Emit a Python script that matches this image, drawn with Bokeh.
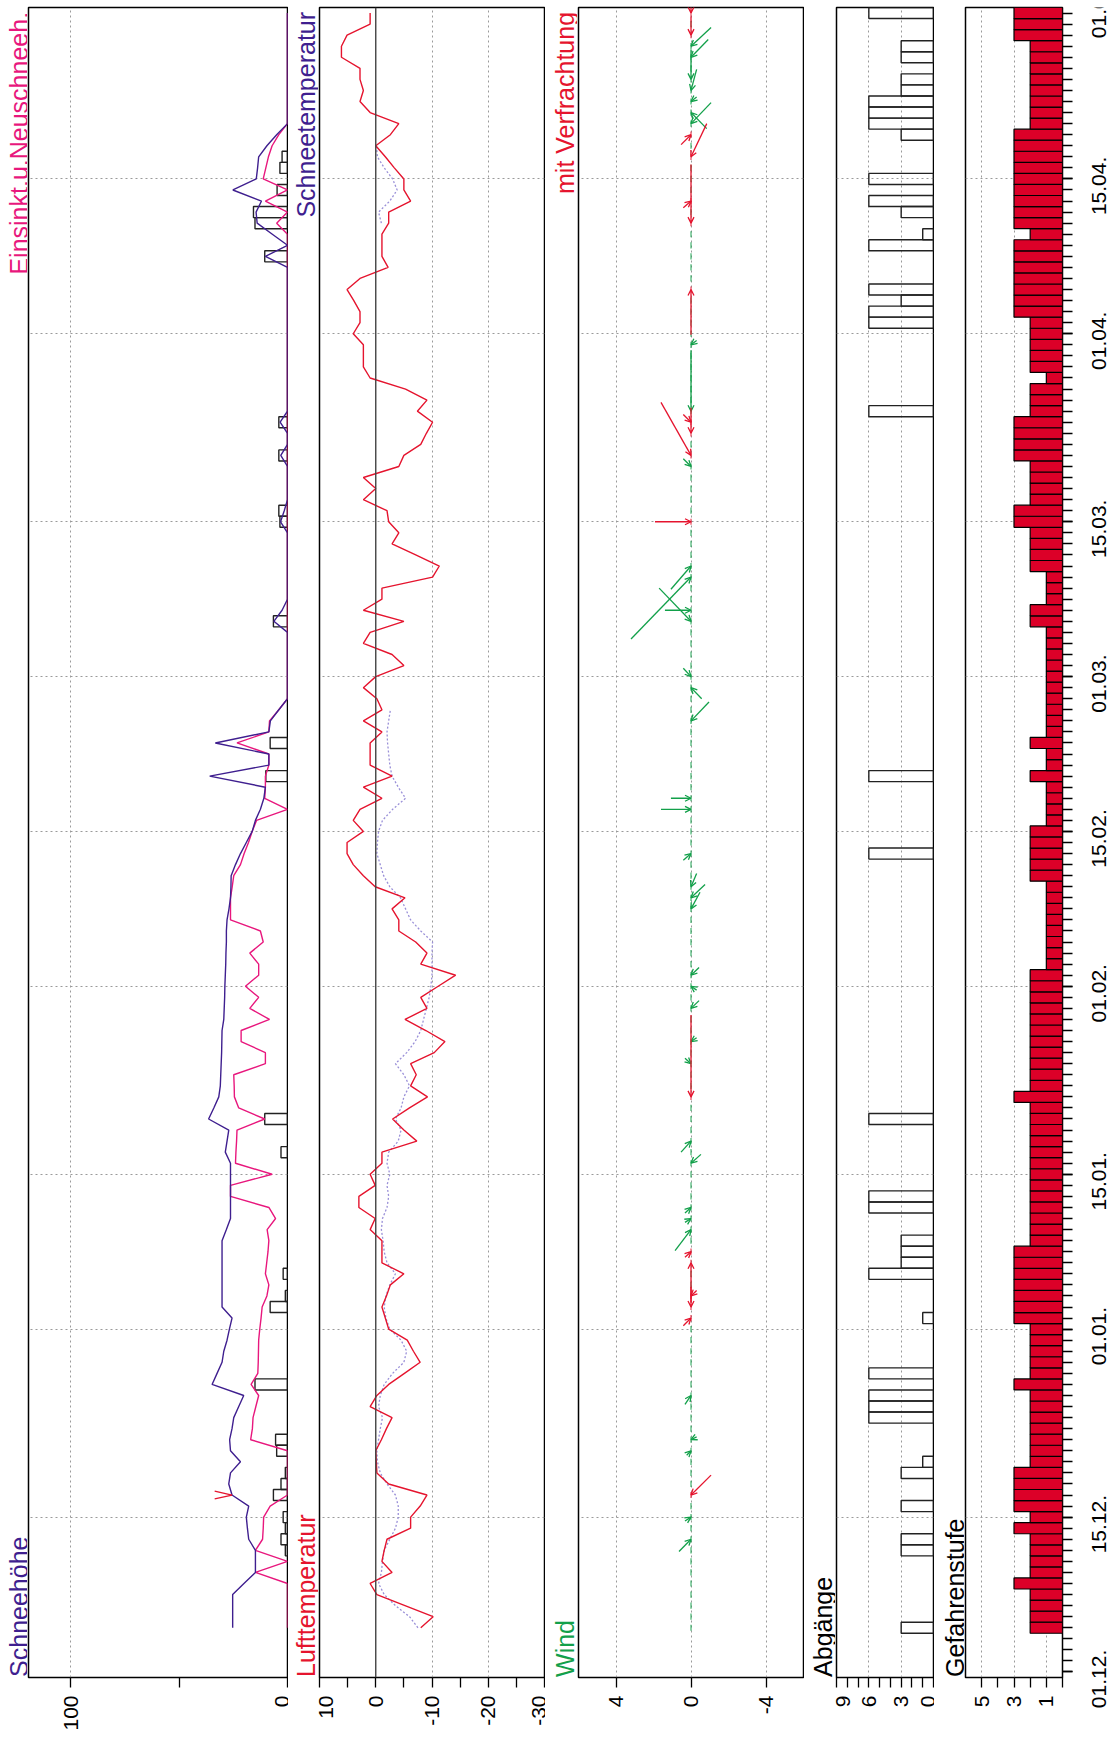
import math
from bokeh.plotting import figure
from bokeh.models import (Range1d, FixedTicker, Span, ColumnDataSource,
                          Arrow, OpenHead, Grid, LinearAxis)
from bokeh.layouts import row
from bokeh.embed import file_html
from bokeh.resources import INLINE
from bokeh.core.properties import value

NAN = float("nan")

# ---------------- data (day index: 0 = 01.12.) ----------------
start_day = 4
date_ticks = [0, 14, 31, 45, 62, 76, 90, 104, 121, 135, 151]
date_labels = ["01.12.", "15.12.", "01.01.", "15.01.", "01.02.",
               "15.02.", "01.03.", "15.03.", "01.04.", "15.04.", "01.05."]
grid_days = [14, 31, 45, 62, 76, 90, 104, 121, 135]

schneehoehe = [
    25.3, 25.3, 25.3, 25.3, 20.1, 14.8, 14.8, 14.8, 17.9, 18.5,
    19.0, 17.9, 25.6, 27.1, 26.3, 21.7, 26.3, 26.7, 25.6, 24.8,
    22.5, 20.2, 34.8, 32.5, 30.2, 29.4, 27.9, 26.8, 25.6, 30.2,
    30.2, 30.2, 30.2, 30.2, 30.2, 30.2, 28.2, 26.3, 26.3, 26.3,
    26.3, 26.3, 26.3, 28.7, 27.9, 27.1, 36.4, 34.0, 31.7, 31.0,
    30.8, 30.6, 30.4, 30.3, 30.2, 29.4, 29.2, 29.0, 28.9, 28.7,
    28.5, 28.4, 28.2, 28.2, 27.9, 27.0, 26.3, 26.1, 26.0, 24.0,
    21.7, 19.0, 16.3, 14.8, 12.5, 10.9, 10.2, 35.9, 8.6, 8.6,
    33.3, 8.6, 7.9, 4.0, 0, 0, 0, 0, 0, 0,
    0, 6.3, 2.5, 0, 0, 0, 0, 0, 0, 0,
    3.2, 1.5, 0, 0, 0, 0, 3.1, 0, 0, 3.4,
    0, 0, 0, 0, 0, 0, 0, 0, 0, 0,
    0, 0, 0, 0, 10.2, 0, 7.0, 14.0, 14.5, 12.0,
    25.2, 14.4, 13.8, 13.3, 9.5, 5.0, 0, 0, 0, 0,
    0, 0, 0, 0, 0, 0, 0]

einsinktiefe = [
    0, 0, 0, 0, 0, 14.8, 0, 14.8, 11.5, 11.2,
    11.0, 8.0, 0, 0, 0, 0, 0, 17.0, 16.2, 15.9,
    14.6, 13.3, 16.8, 13.7, 13.5, 13.4, 13.3, 12.8, 12.2, 11.7,
    9.5, 8.6, 10.2, 9.6, 9.0, 8.6, 9.4, 5.5, 8.6, 26.3,
    26.3, 7.1, 24.0, 23.8, 23.5, 23.3, 10.5, 22.5, 24.5, 24.6,
    24.8, 10.2, 10.2, 21.4, 21.4, 8.3, 17.4, 13.3, 19.4, 13.3,
    13.3, 17.4, 11.2, 12.5, 26.3, 26.3, 26.3, 25.5, 24.8, 21.7,
    20.0, 18.0, 16.3, 14.3, 0, 10.5, 10.2, 10.2, 8.6, 8.6,
    23.3, 8.6, 8.3, 4.0, 0, 0, 0, 0, 0, 0,
    0, 0, 0, 0, 0, 0, 0, 0, 0, 0,
    0, 0, 0, 0, 0, 0, 0, 0, 0, 0,
    0, 0, 0, 0, 0, 0, 0, 0, 0, 0,
    0, 0, 0, 0, 0, 0, 0, 5.0, 0, 10.2,
    0, 11.2, 10.0, 8.8, 7.1, 4.0, 0, 0, 0, 0,
    0, 0, 0, 0, 0, 0, 0]

neuschnee_days = [11, 12, 13, 14, 16, 17, 18, 20, 21, 26, 33, 34, 36, 47, 50,
                  81, 84, 95, 104, 105, 110, 113, 128, 131, 132, 134, 136, 137]
neuschnee = [1, 3, 1, 2, 6.5, 3, 1, 5, 5.5, 15, 8, 1, 2, 3, 10.5,
             10, 8, 6.5, 3.5, 4, 4, 4, 10.5, 15, 15.7, 4.8, 3.5, 2.5]

reif_days = [16]
reif_val = [25.6]

lufttemperatur = [
    -8.0, -10.2, -5.2, -0.2, 1.0, -2.9, -1.1, -1.5, -2.0, -6.2,
    -6.2, -7.9, -9.1, -2.3, -0.2, -0.1, 0.0, -1.0, -1.9, -2.9,
    1.0, -0.2, -2.3, -5.1, -7.9, -6.7, -5.6, -2.3, -1.7, -1.1,
    -1.9, -2.6, -5.0, -1.1, -1.1, -1.1, 1.0, 0.1, 3.0, 3.0,
    0.1, 1.0, -1.1, -1.1, -7.3, -5.0, -3.0, -6.0, -9.2, -6.2,
    -7.2, -6.2, -10.4, -12.3, -8.9, -5.2, -9.1, -8.0, -11.1, -14.2,
    -8.0, -9.1, -7.1, -4.1, -4.1, -2.9, -5.2, 0.1, 2.2, 4.0,
    5.1, 5.1, 2.2, 4.0, 2.8, -1.1, 2.2, -2.9, 1.0, 1.0,
    1.0, -1.1, 2.2, -1.1, -0.2, 2.2, 0.0, -5.0, -2.9, 2.2,
    1.0, -5.0, 2.2, -1.1, -1.1, -10.1, -11.3, -7.1, -2.9, -4.1,
    -2.3, -2.0, 2.2, 0.0, 2.2, -4.1, -5.0, -8.0, -9.0, -10.1,
    -7.4, -9.1, -5.3, 1.0, 2.2, 2.2, 2.2, 4.0, 2.8, 2.8,
    3.9, 5.1, 2.8, -2.2, -1.1, -1.1, -1.1, -2.3, -2.3, -6.2,
    -5.0, -5.0, -3.3, -1.7, 0.0, -2.6, -4.1, 1.0, 2.8, 2.2,
    2.8, 2.8, 6.1, 6.1, 5.1, 1.0, 1.0]

schneetemperatur = [
    -7.5, -6.0, -3.5, -1.5, -0.5, -1.0, -1.2, -1.5, -2.5, -3.5,
    -4.0, -4.0, -3.5, -2.0, -0.8, -0.3, -0.2, -0.5, -0.8, -1.2,
    -0.5, -0.8, -1.5, -3.0, -5.0, -5.5, -4.5, -2.5, -1.8, -1.5,
    -1.8, -2.5, -3.5, -2.0, -1.5, -1.3, -1.0, -1.2, -2.0, -2.3,
    -2.0, -2.5, -2.0, -2.3, -4.0, -4.5, -3.5, -4.5, -5.0, -6.0,
    -5.0, -3.5, -5.5, -7.0, -8.0, -8.5, -9.0, -9.5, -9.8, -10.0,
    -10.0, -10.0, -10.1, -8.0, -6.2, -5.3, -4.4, -2.5, -1.4, -0.8,
    -0.2, -0.3, -0.5, -1.2, -3.0, -5.3, -4.0, -2.9, -2.5, -2.3,
    -2.1, -2.0, -2.3, -2.6, NAN, NAN, NAN, NAN, NAN, NAN,
    NAN, NAN, NAN, NAN, NAN, NAN, NAN, NAN, NAN, NAN,
    NAN, NAN, NAN, NAN, NAN, NAN, NAN, NAN, NAN, NAN,
    NAN, NAN, NAN, NAN, NAN, NAN, NAN, NAN, NAN, NAN,
    NAN, NAN, NAN, NAN, NAN, NAN, NAN, -1.0, -0.5, -2.5,
    -3.8, -3.0, -1.5, -0.3, -0.1, NAN, NAN, NAN, NAN, NAN,
    NAN, NAN, NAN, NAN, NAN, NAN, NAN]

# wind: head day, tail offset (wind units), tail offset (days)
wind_days = [147, 146, 144, 143, 142, 141, 140, 120, 114, 109, 100, 99, 96, 95,
             90, 89, 86, 79, 78, 74, 71, 70, 69, 63, 62, 60, 57, 55, 48, 46,
             42, 41, 40, 25, 21, 20, 14, 12]
wind_u = [-1.07, -0.92, 0.0, -0.3, -0.3, -0.84, -1.07, -0.3, 0.0, 0.41, 1.07, 3.2, 1.39, 1.7,
          0.41, -0.57, -0.96, 1.07, 1.6, 0.41, -0.3, -0.75, -0.48, -0.43, -0.3, -0.43, -0.3, 0.32,
          0.53, -0.53, 0.32, 0.32, 0.85, 0.32, -0.3, 0.23, 0.32, 0.64]
wind_v = [1.7, 1.6, 2.7, 1.9, 0.4, -1.45, 1.9, 0.4, 5.5, 0.7, -2.1, -5.6, 0.0, 3.0,
          0.75, -1.0, 1.7, 0.0, 0.0, -0.6, 1.2, 1.2, 1.5, 0.7, -0.35, 0.7, 0.35, 0.5,
          -1.0, 0.8, -0.5, -0.35, -1.9, -0.8, 0.25, -0.4, -0.35, -1.1]
drift_days = [150, 148, 139, 137, 133, 131, 125, 113, 112, 110, 104, 52, 38, 37, 34, 33, 32, 16]
drift_u = [0.0, 0.0, 0.53, -0.84, 0.41, 0.0, 0.0, 0.41, 0.0, 1.6, 1.92, 0.0, 0.32, 0.0, -0.3, 0.0, 0.41, -1.07]
drift_v = [1.5, 1.7, -0.9, 3.0, -0.6, 5.3, -4.1, 0.7, 2.3, 4.8, 0.0, 7.4, -0.5, -3.6, 0.5, 1.8, -0.7, 1.8]

abgaenge_days = [4, 11, 12, 15, 18, 19, 23, 24, 25, 27, 32, 36, 37, 38, 39, 42, 43, 50,
                 74, 81, 114, 122, 123, 124, 125, 129, 130, 132, 133, 135, 139, 140,
                 141, 142, 143, 144, 146, 147, 150]
abgaenge = [3, 3, 3, 3, 3, 1, 6, 6, 6, 6, 1, 6, 3, 3, 3, 6, 6, 6,
            6, 6, 6, 6, 6, 3, 6, 6, 1, 3, 6, 6, 3, 6,
            6, 6, 3, 3, 3, 3, 6]

gefahrenstufe = [
    2, 2, 2, 2, 3, 2, 2, 2, 2, 3,
    2, 3, 3, 3, 3, 2, 2, 2, 2, 2,
    2, 2, 3, 2, 2, 2, 2, 2, 3, 3,
    3, 3, 3, 3, 3, 2, 2, 2, 2, 2,
    2, 2, 2, 2, 2, 2, 2, 2, 3, 2,
    2, 2, 2, 2, 2, 2, 2, 2, 2, 2,
    1, 1, 1, 1, 1, 1, 1, 1, 2, 2,
    2, 2, 2, 1, 1, 1, 1, 2, 1, 1,
    2, 1, 1, 1, 1, 1, 1, 1, 1, 1,
    1, 2, 2, 1, 1, 1, 2, 2, 2, 2,
    3, 3, 2, 2, 2, 2, 3, 3, 3, 3,
    2, 2, 2, 1, 2, 2, 2, 2, 2, 3,
    3, 3, 3, 3, 3, 3, 2, 3, 3, 3,
    3, 3, 3, 3, 3, 3, 2, 2, 2, 2,
    2, 2, 2, 2, 3, 3, 3]

days = list(range(start_day, start_day + len(schneehoehe)))

# ---------------- style / layout ----------------
FONT = "Liberation Sans"
PURPLE = "#3f1f8f"
PINK = "#e8177d"
RED = "#e5142e"
GREEN = "#12a04a"
DANGER = "#dc0028"
GRID = "#9a9a9a"
LAVENDER = "#9a90d8"
FH = 1670          # frame height
TOP = 7            # border above frames
BOTTOM = 55        # border below frames
YR = (-0.5, 150.5)
PX_PER_DAY = FH / (YR[1] - YR[0])
TITLE_SIZE = "25px"


def panel(xr, fw, right, ticks, labels, vgrid):
    p = figure(x_range=Range1d(*xr), y_range=Range1d(*YR),
               frame_width=fw, frame_height=FH,
               min_border_left=1, min_border_right=right,
               min_border_top=TOP, min_border_bottom=BOTTOM,
               y_axis_location=None, output_backend="svg",
               toolbar_location=None)
    p.grid.visible = False
    p.outline_line_color = "black"
    p.outline_line_width = 1.5
    p.background_fill_color = "white"
    p.border_fill_color = "white"
    ax = p.xaxis[0]
    ax.ticker = FixedTicker(ticks=ticks)
    ax.major_label_overrides = {t: l for t, l in zip(ticks, labels)}
    ax.major_label_orientation = math.pi / 2
    ax.major_label_text_font = FONT
    ax.major_label_text_font_size = "21px"
    ax.major_label_text_color = "black"
    ax.major_label_standoff = 8
    ax.major_tick_out = 10
    ax.major_tick_in = 0
    ax.major_tick_line_color = "black"
    ax.major_tick_line_width = 1.3
    ax.minor_tick_line_color = None
    ax.axis_line_color = None
    p.add_layout(Grid(dimension=1, ticker=FixedTicker(ticks=grid_days),
                      grid_line_color=GRID, grid_line_dash="2 3", grid_line_width=1))
    if vgrid:
        p.add_layout(Grid(dimension=0, ticker=FixedTicker(ticks=vgrid),
                          grid_line_color=GRID, grid_line_dash="2 3", grid_line_width=1))
    return p


def strip(width, yr=YR, fh=FH, top=TOP, bottom=BOTTOM):
    s = figure(x_range=Range1d(0, width), y_range=Range1d(*yr),
               frame_width=width, frame_height=fh,
               min_border_left=0, min_border_right=0,
               min_border_top=top, min_border_bottom=bottom,
               x_axis_location=None, y_axis_location=None,
               output_backend="svg", toolbar_location=None)
    s.grid.visible = False
    s.outline_line_color = None
    s.background_fill_color = "white"
    s.border_fill_color = "white"
    return s


def title(s, x, text, color, at_top):
    s.text(x=[x], y=[150.1 if at_top else YR[0] + 0.05], text=[text],
           angle=math.pi / 2, text_align="right" if at_top else "left",
           text_baseline="middle", text_font=value(FONT),
           text_font_size=TITLE_SIZE, text_color=color)


# ---- title strip 1 + panel 1: Schneehöhe ----
t1 = strip(27)
title(t1, 18.5, "Schneehöhe", PURPLE, False)
title(t1, 18.5, "Einsinkt.u.Neuschneeh.", PINK, True)

p1 = panel((119.5, 0), 259, 1, [100, 50, 0], ["100", "", "0"], [100])
p1.hbar(y=neuschnee_days, left=0, right=neuschnee, height=1,
        fill_color=None, line_color="#222222", line_width=1.4)
p1.line(einsinktiefe, days, line_color=PINK, line_width=1.4)
p1.line(schneehoehe, days, line_color=PURPLE, line_width=1.4)
p1.segment(x0=reif_val, y0=reif_days, x1=[v + 8 for v in reif_val],
           y1=[d + 0.35 for d in reif_days], line_color=RED, line_width=1.3)
p1.segment(x0=reif_val, y0=reif_days, x1=[v + 8 for v in reif_val],
           y1=[d - 0.35 for d in reif_days], line_color=RED, line_width=1.3)

# ---- title strip 2 + panel 2: Temperaturen ----
t2 = strip(30)
title(t2, 17, "Lufttemperatur", RED, False)
title(t2, 17, "Schneetemperatur", PURPLE, True)

p2 = panel((10, -30), 225, 1, list(range(10, -31, -5)),
           ["10", "", "0", "", "-10", "", "-20", "", "-30"], [-10, -20])
p2.add_layout(Span(location=0, dimension="height", line_color="#444444", line_width=1.4))
p2.line(schneetemperatur, days, line_color=LAVENDER, line_width=1.3, line_dash="2 2")
p2.line(lufttemperatur, days, line_color=RED, line_width=1.4)

# ---- title strip 3 + panel 3: Wind ----
t3 = strip(32)
title(t3, 19, "Wind", GREEN, False)
title(t3, 19, "mit Verfrachtung", RED, True)

p3 = panel((6, -6), 225, 1, [4, 0, -4], ["4", "0", "-4"], [4, 0, -4])
drift_set = set(drift_days)
p3.segment(x0=[0] * len(days), y0=[d - 0.28 for d in days],
           x1=[0] * len(days), y1=[d + 0.28 for d in days],
           line_color=[RED if d in drift_set else GREEN for d in days],
           line_width=1.2, line_alpha=0.8)
g_src = ColumnDataSource(dict(x0=wind_u, y0=[d + v for d, v in zip(wind_days, wind_v)],
                              x1=[0] * len(wind_days), y1=wind_days))
r_src = ColumnDataSource(dict(x0=drift_u, y0=[d + v for d, v in zip(drift_days, drift_v)],
                              x1=[0] * len(drift_days), y1=drift_days))
p3.add_layout(Arrow(end=OpenHead(size=6, line_color=GREEN, line_width=1.3),
                    x_start="x0", y_start="y0", x_end="x1", y_end="y1",
                    source=g_src, line_color=GREEN, line_width=1.3))
p3.add_layout(Arrow(end=OpenHead(size=6, line_color=RED, line_width=1.3),
                    x_start="x0", y_start="y0", x_end="x1", y_end="y1",
                    source=r_src, line_color=RED, line_width=1.3))

# ---- title strip 4 + panel 4: Abgänge ----
t4 = strip(31)
title(t4, 18, "Abgänge", "black", False)

p4 = panel((9, 0), 97, 1, list(range(0, 10)),
           ["0", "", "", "3", "", "", "6", "", "", "9"], [6, 3])
p4.hbar(y=abgaenge_days, left=0, right=abgaenge, height=1,
        fill_color=None, line_color="#222222", line_width=1.4)

# ---- title strip 5 + panel 5: Gefahrenstufe ----
t5 = strip(30)
title(t5, 20.5, "Gefahrenstufe", "black", False)

p5 = panel((6, 0), 97, 11, list(range(0, 6)),
           ["", "1", "", "3", "", "5"], [5, 3, 1])
p5.hbar(y=days, left=0, right=gefahrenstufe, height=1,
        fill_color=DANGER, line_color="black", line_width=1.2)
yax = LinearAxis(ticker=FixedTicker(ticks=date_ticks[:-1], minor_ticks=list(range(0, 151))),
                 major_label_overrides={t: "" for t in date_ticks[:-1]},
                 major_label_text_font_size="1px", major_label_standoff=0,
                 major_tick_out=10, major_tick_in=0, major_tick_line_width=1.3,
                 minor_tick_out=10, minor_tick_in=0, minor_tick_line_width=1.3,
                 minor_tick_line_color="black", axis_line_color=None)
p5.add_layout(yax, "right")

# ---- date label strip (right) ----
full_h = TOP + FH + BOTTOM
t6 = strip(38, yr=(YR[0] - BOTTOM / PX_PER_DAY, YR[1] + TOP / PX_PER_DAY),
           fh=full_h, top=0, bottom=0)
t6.text(x=[25] * len(date_ticks), y=date_ticks, text=date_labels, angle=math.pi / 2,
        text_align="center", text_baseline="middle", text_font=value(FONT),
        text_font_size="21px", text_color="black")

layout = row(t1, p1, t2, p2, t3, p3, t4, p4, t5, p5, t6)
open("out.html", "w").write(file_html(layout, INLINE))
